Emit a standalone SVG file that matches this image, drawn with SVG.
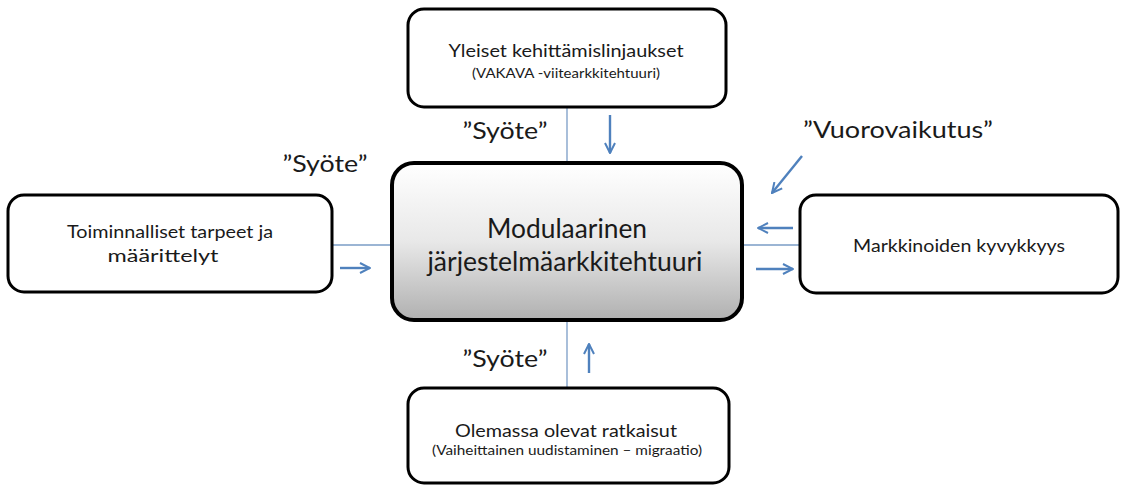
<svg xmlns="http://www.w3.org/2000/svg" width="1121" height="486" viewBox="0 0 1121 486">
  <defs>
    <linearGradient id="coreFill" x1="0" y1="0" x2="0" y2="1">
      <stop offset="0" stop-color="#ffffff"/>
      <stop offset="0.5" stop-color="#e8e8e8"/>
      <stop offset="1" stop-color="#b0b0b0"/>
    </linearGradient>
    <marker id="head" viewBox="0 0 12 12" refX="11" refY="6" markerWidth="12" markerHeight="12" markerUnits="userSpaceOnUse" orient="auto">
      <path d="M1,1 L11,6 L1,11" fill="none" stroke="#4f81bd" stroke-width="2" stroke-linejoin="miter"/>
    </marker>
  </defs>
  <style>
    text { font-family: Lato, "Open Sans", "Liberation Sans", sans-serif; fill: #1a1a1a; text-anchor: middle; }
    .box { fill: #ffffff; stroke: #000000; stroke-width: 3; }
    .core { fill: url(#coreFill); stroke: #000000; stroke-width: 4; }
    .link { stroke: #7a9cc6; stroke-width: 1.3; fill: none; }
    .arrow { stroke: #4f81bd; stroke-width: 2.4; fill: none; marker-end: url(#head); }
    .t { font-size: 18px; }
    .s { font-size: 13px; }
    .m { font-size: 27px; }
    .q { font-size: 23px; }
  </style>
  <rect width="1121" height="486" fill="#ffffff"/>

  <!-- connectors -->
  <g id="connectors">
    <line class="link" x1="567" y1="107" x2="567" y2="163"/>
    <line class="link" x1="567" y1="320" x2="567" y2="388"/>
    <line class="link" x1="332" y1="245" x2="392" y2="245"/>
    <line class="link" x1="742" y1="245" x2="800" y2="245"/>
    <line class="arrow" x1="610" y1="115" x2="610" y2="153"/>
    <line class="arrow" x1="589" y1="373" x2="589" y2="344"/>
    <line class="arrow" x1="340" y1="268" x2="370" y2="268"/>
    <line class="arrow" x1="793" y1="228" x2="758" y2="228"/>
    <line class="arrow" x1="756" y1="269" x2="793" y2="269"/>
    <line class="arrow" x1="802" y1="156" x2="772" y2="193"/>
  </g>

  <!-- edge labels -->
  <g id="labels">
    <text class="q" x="505" y="139" textLength="85" lengthAdjust="spacingAndGlyphs">”Syöte”</text>
    <text class="q" x="325" y="172" textLength="85" lengthAdjust="spacingAndGlyphs">”Syöte”</text>
    <text class="q" x="505" y="367" textLength="85" lengthAdjust="spacingAndGlyphs">”Syöte”</text>
    <text class="q" x="898" y="138" textLength="190" lengthAdjust="spacingAndGlyphs">”Vuorovaikutus”</text>
  </g>

  <g id="node-top">
    <rect class="box" x="408" y="9" width="318" height="98" rx="16"/>
    <text class="t" x="566" y="57" textLength="235" lengthAdjust="spacingAndGlyphs">Yleiset kehittämislinjaukset</text>
    <text class="s" x="566" y="78" textLength="188" lengthAdjust="spacingAndGlyphs">(VAKAVA -viitearkkitehtuuri)</text>
  </g>

  <g id="node-core">
    <rect class="core" x="392" y="163" width="350" height="157" rx="22"/>
    <text class="m" x="567" y="238" textLength="160" lengthAdjust="spacingAndGlyphs">Modulaarinen</text>
    <text class="m" x="565" y="271" textLength="275" lengthAdjust="spacingAndGlyphs">järjestelmäarkkitehtuuri</text>
  </g>

  <g id="node-left">
    <rect class="box" x="8" y="195" width="324" height="97" rx="16"/>
    <text class="t" x="170" y="238" textLength="206" lengthAdjust="spacingAndGlyphs">Toiminnalliset tarpeet ja</text>
    <text class="t" x="163" y="262" textLength="111" lengthAdjust="spacingAndGlyphs">määrittelyt</text>
  </g>

  <g id="node-right">
    <rect class="box" x="800" y="195" width="318" height="98" rx="16"/>
    <text class="t" x="959" y="252" textLength="212" lengthAdjust="spacingAndGlyphs">Markkinoiden kyvykkyys</text>
  </g>

  <g id="node-bottom">
    <rect class="box" x="408" y="388" width="321" height="95" rx="16"/>
    <text class="t" x="566" y="437" textLength="222" lengthAdjust="spacingAndGlyphs">Olemassa olevat ratkaisut</text>
    <text class="s" x="567" y="455" textLength="270" lengthAdjust="spacingAndGlyphs">(Vaiheittainen uudistaminen – migraatio)</text>
  </g>
</svg>
